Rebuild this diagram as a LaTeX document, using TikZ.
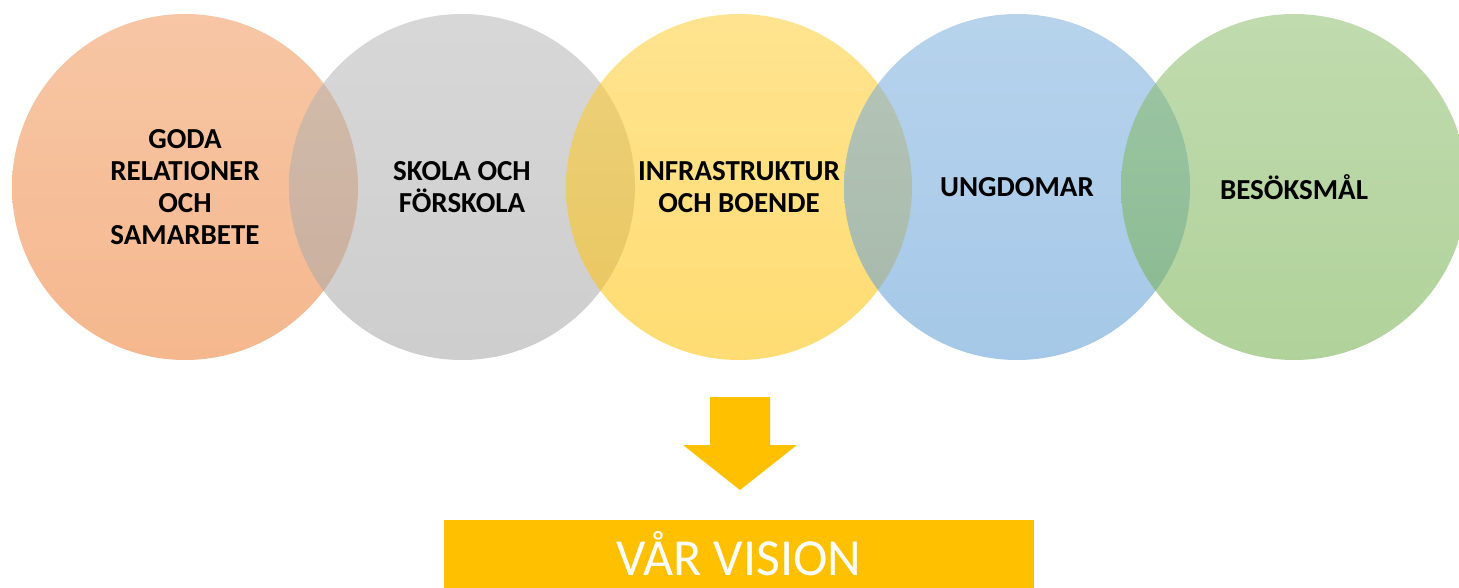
\documentclass[tikz,border=0pt]{standalone}
\usepackage{fontspec}
\setmainfont{Carlito}
\usepackage{tikz}
\usetikzlibrary{positioning}

\definecolor{accorange}{HTML}{ED7D31}
\definecolor{accgray}{HTML}{A5A5A5}
\definecolor{accgold}{HTML}{FFC000}
\definecolor{accblue}{HTML}{5B9BD5}
\definecolor{accgreen}{HTML}{70AD47}

\begin{document}
\begin{tikzpicture}[x=1pt,y=-1pt]
        \tikzstyle{ring}=[circle, minimum size=346pt, inner sep=0pt,
            fill opacity=.55]
        \tikzstyle{ringtext}=[align=center, text=black,
            font=\bfseries\fontsize{29}{32}\selectfont]

            \useasboundingbox (0,0) rectangle (1459,588);

            \foreach \t/\x/\col in {1/185/accorange, 2/462/accgray,
                3/739/accgold, 4/1017/accblue, 5/1294/accgreen}
            {
                \node[ring, top color=\col!80!white, bottom color=\col]
                (c\t) at (\x,187) {};
            }

            \node[ringtext] (t1) at (c1) {GODA\\RELATIONER\\OCH\\SAMARBETE};
            \node[ringtext] (t2) at (c2) {SKOLA OCH\\FÖRSKOLA};
            \node[ringtext] (t3) at (c3) {INFRASTRUKTUR\\OCH BOENDE};
            \node[ringtext] (t4) at (c4) {UNGDOMAR};
            \node[ringtext] (t5) at (c5) {BESÖKSMÅL};

            \fill[accgold] (710,397) -- (770,397) -- (770,445) -- (797,445)
            -- (740,490) -- (683,445) -- (710,445) -- cycle;

            \node[fill=accgold, minimum width=590pt, minimum height=80pt,
            text depth=14pt, anchor=north, inner sep=0pt, text=white,
            font=\fontsize{52}{60}\selectfont] (vision) at (739,520)
            {VÅR VISION};
    \end{tikzpicture}
\end{document}
